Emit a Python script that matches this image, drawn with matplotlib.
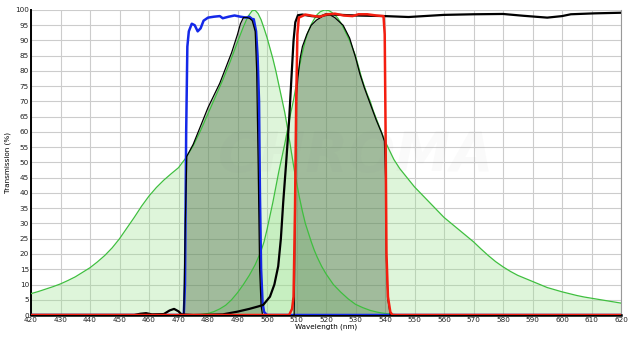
import numpy as np
import matplotlib.pyplot as plt

# Excitation spectrum (green, peak ~495 nm)
ex_wl = [420, 422.5, 425, 427.5, 430, 432.5, 435, 437.5, 440, 442.5, 445, 447.5,
         450, 452.5, 455, 457.5, 460, 462.5, 465, 467.5, 470, 472.5, 475, 477.5,
         480, 482.5, 485, 487.5, 490, 492, 493.5, 495, 496, 497, 498, 499, 500,
         501, 502, 503, 504, 505, 506, 507, 508, 509, 510, 511, 512, 513, 514,
         515, 516, 517, 518.5, 520, 522.5, 525, 527.5, 530, 532.5, 535, 537.5,
         540, 545]
ex_val = [7, 7.7, 8.5, 9.3, 10.2, 11.3, 12.5, 14, 15.5, 17.4, 19.5, 22,
          25, 28.5, 32, 35.7, 39, 41.8, 44.2, 46.3, 48.3, 51.5, 55.5, 60.5,
          66, 71.5, 77, 83, 89.5, 94.5, 97.8, 99.8, 99.9, 98.8, 96.8, 94, 91,
          87.5, 84, 80, 75.5, 71, 66.5, 61, 55, 49, 43.5, 38.5, 34, 30, 27,
          24, 21.3, 19, 16, 13.5, 10, 7.5, 5.3, 3.5, 2.4, 1.5, 0.9,
          0.5, 0]

# Emission spectrum (green, peak ~519 nm)
em_wl = [476, 478, 480, 482, 484, 486, 488, 490, 492, 494, 496, 498, 499, 500,
         501, 502, 503, 504, 505, 506, 507, 508, 509, 510, 511, 512, 513, 514,
         515, 516, 517, 518, 519.5, 521, 522, 523, 524, 525, 526, 527, 528, 529,
         530, 531, 532, 533, 534, 535, 536, 537, 538, 539, 540, 541, 542, 543,
         544, 545, 547.5, 550, 552.5, 555, 557.5, 560, 562.5, 565, 567.5, 570,
         572.5, 575, 577.5, 580, 582.5, 585, 587.5, 590, 592.5, 595, 597.5, 600,
         602.5, 605, 607.5, 610, 612.5, 615, 617.5, 620]
em_val = [0, 0.2, 0.5, 1.1, 2, 3.2, 5, 7.3, 10, 13, 16.5, 21, 24, 28,
          32.5, 37, 42, 47, 51.5, 56, 61, 66, 70.5, 76, 81.5, 86, 90, 93,
          95.3, 97, 98.5, 99.4, 100, 99.8, 99.2, 98.4, 97.3, 95.8, 94, 92, 90, 87.5,
          85, 81.5, 78, 75, 72.3, 70, 67, 64.5, 62, 59.5, 57, 55, 53, 51,
          49.5, 48, 45, 42, 39.5, 37, 34.5, 32, 30, 28, 26, 24,
          21.7, 19.5, 17.5, 15.8, 14.3, 13, 12, 11, 10, 9, 8.3, 7.6,
          7, 6.4, 5.9, 5.5, 5.1, 4.7, 4.3, 3.9]

# Excitation filter (blue)
blue_wl = [420, 471, 471.8, 472.2, 472.6, 473, 473.5, 474.5, 475.5, 476.5, 477.5,
           478.5, 480, 482, 484, 485, 487, 489, 491, 493, 494, 495, 495.5, 496.3,
           496.8, 497.3, 497.6, 498, 498.5, 499, 500, 620]
blue_val = [0, 0, 0.5, 10, 60, 88, 93, 95.5, 95, 93, 94,
            96.5, 97.5, 97.8, 98, 97.3, 97.8, 98.2, 97.8, 97.5, 97.8, 97, 97, 93,
            85, 70, 40, 15, 4, 1, 0, 0]

# Emission filter (red)
red_wl = [420, 507.5, 508.5, 509, 509.5, 509.9, 510.3, 510.8, 513, 516, 518, 520,
          523, 526, 529, 531, 534, 537, 539.5, 539.9, 540.2, 540.5, 541, 541.8,
          542.5, 620]
red_val = [0, 0, 2, 6, 35, 70, 92, 97.5, 98.5, 98, 97.8, 98.5,
           98.8, 98.2, 98, 98.6, 98.6, 98.2, 98, 92, 60, 20, 6, 1,
           0, 0]

# Dichroic mirror (black)
dic_wl = [420, 455, 457, 459, 461, 465, 467, 468.5, 470, 471, 475, 485, 490,
          494, 497, 498.7, 501, 502.5, 503.8, 504.7, 505.5, 506.5, 507.5, 508.3,
          509, 509.6, 510.5, 512, 515, 518, 520, 525, 530, 540, 548, 560, 570,
          580, 587, 595, 600, 603, 611, 620]
dic_val = [0, 0, 0.4, 0.6, 0.2, 0.3, 1.5, 2, 1.2, 0.2, 0, 0.2, 1.1,
           2, 2.8, 3.3, 6, 10, 16, 25, 37, 50, 64, 78,
           90, 96, 98.3, 98.5, 98, 97.8, 98.6, 98.4, 98.2, 98, 97.7, 98.4, 98.6,
           98.7, 98.1, 97.5, 98, 98.6, 98.9, 99.1]

# Excitation light through the filter (shaded)
sh1_wl = [471.8, 472.3, 472.8, 475, 477.3, 480, 482, 484, 486, 488, 490, 491,
          492, 493, 494.2, 495, 496, 496.5, 497, 497.5, 498, 498.5]
sh1_val = [0, 30, 52, 56, 61.5, 68, 72, 76, 81, 86, 92, 95.5,
           97.5, 97.6, 97.2, 96.5, 93, 80, 50, 15, 3, 0]

# Emission light through the filter (shaded)
sh2_wl = [509.2, 509.6, 510, 510.5, 511.2, 512, 513.5, 515, 516.8, 519, 521.4,
          523, 525.8, 528, 530, 531.5, 533, 534.9, 537, 538.9, 539.8, 540.2,
          540.5, 541, 541.8]
sh2_val = [0, 40, 72, 78, 84, 88, 92, 95, 96.7, 98, 98.4,
           97.5, 95, 90.8, 84.5, 79, 74.5, 69.5, 64, 59.6, 57, 45,
           18, 5, 0]

fig = plt.figure(figsize=(6.34, 3.37), dpi=100)
ax = fig.add_axes([31 / 634, 1 - 315 / 337, 590 / 634, 305 / 337])

ax.fill_between(ex_wl, ex_val, color='#9be38f', alpha=0.33, lw=0, zorder=1)
ax.fill_between(em_wl, em_val, color='#9be38f', alpha=0.33, lw=0, zorder=1)
ax.fill_between(sh1_wl, sh1_val, color='#4d6b48', alpha=0.42, lw=0, zorder=2)
ax.fill_between(sh2_wl, sh2_val, color='#4d6b48', alpha=0.42, lw=0, zorder=2)

ax.plot(ex_wl, ex_val, color='#3fbf3f', lw=0.9, zorder=3)
ax.plot(em_wl, em_val, color='#3fbf3f', lw=0.9, zorder=3)

ax.plot(blue_wl, blue_val, color='#1428e8', lw=1.8, zorder=4)
ax.plot(sh1_wl, sh1_val, color='black', lw=0.9, zorder=5)
ax.plot(sh2_wl, sh2_val, color='black', lw=0.9, zorder=5)
ax.plot(dic_wl, dic_val, color='black', lw=1.6, zorder=6)
ax.plot(red_wl, red_val, color='#f41e10', lw=1.8, zorder=7)

# faint watermark
ax.text(530, 52, 'CHROMA', fontsize=40, fontweight='bold', style='italic',
        color='#808080', alpha=0.035, ha='center', va='center', zorder=8)

ax.set_xlim(420, 620)
ax.set_ylim(0, 100)
ax.set_xticks(np.arange(420, 621, 10))
ax.set_yticks(np.arange(0, 101, 5))
ax.tick_params(labelsize=5.2, length=0, pad=1.5, colors='#222222')
ax.grid(True, color='#cccccc', lw=0.8)
ax.set_axisbelow(True)

ax.spines['top'].set_visible(False)
ax.spines['right'].set_color('#999999')
ax.spines['left'].set_linewidth(1.4)
ax.spines['bottom'].set_linewidth(1.8)

ax.set_xlabel('Wavelength (nm)', fontsize=5.2, labelpad=0.5)
ax.set_ylabel('Transmission (%)', fontsize=5.2, labelpad=3)

fig.savefig('out.png', dpi=100)
